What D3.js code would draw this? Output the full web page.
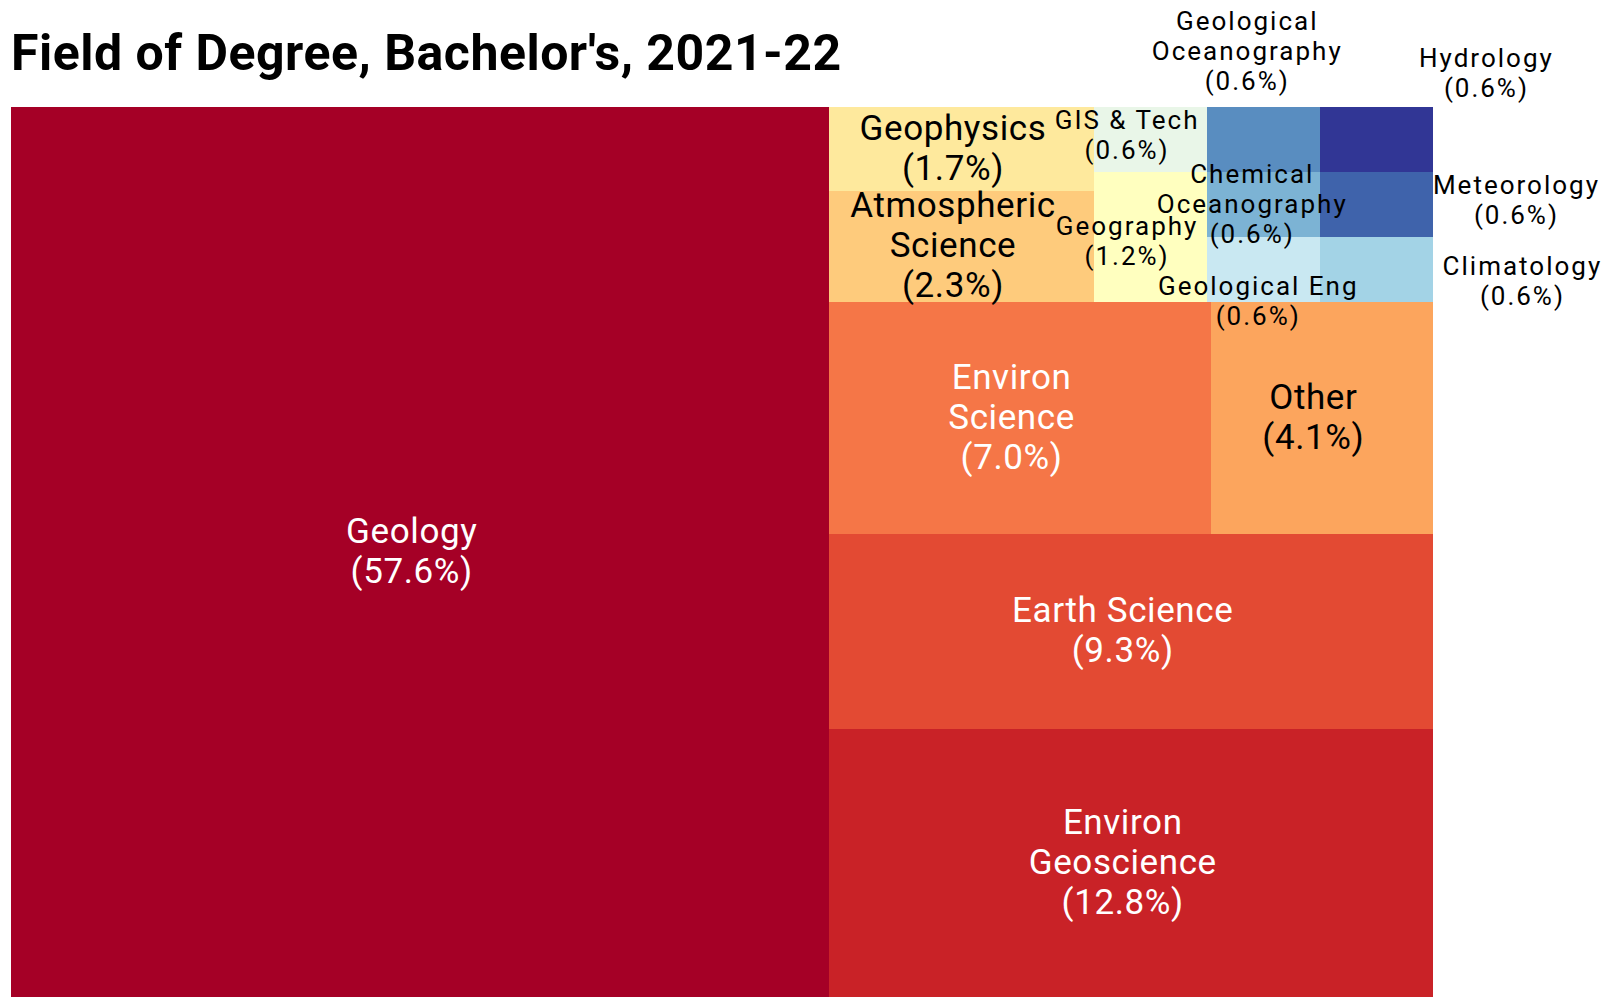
<!DOCTYPE html>
<html>
<head>
<meta charset="utf-8">
<script src="https://cdn.jsdelivr.net/npm/d3@7"></script>
<style>
    body { margin: 0; background: #fff; }
    text { font-family: Roboto, "Noto Sans", sans-serif; }
</style>
</head>
<body>
<script>
const WIDTH = 1611;
const HEIGHT = 997;

const mapLeft = 11;
const mapTop = 107;
const mapWidth = 1422;
const mapHeight = 890;

// fields, ranked by number of degrees (rank also drives the colour)
const fields = [
    "Geology", "Environ\nGeoscience", "Earth Science", "Environ\nScience", "Other",
    "Atmospheric\nScience", "Geophysics", "Geography", "GIS & Tech", "Geological Eng",
    "Climatology", "Chemical\nOceanography", "Geological\nOceanography", "Meteorology", "Hydrology"
];
const degrees = [99, 22, 16, 12, 7, 4, 3, 2, 1, 1, 1, 1, 1, 1, 1];
// nesting used by the slice-and-dice layout
const blocks = [
    "", "R", "R", "R/mid", "R/mid",
    "R/top/c1", "R/top/c1", "R/top/c2", "R/top/c2", "R/top/c3",
    "R/top/c4", "R/top/c3", "R/top/c3", "R/top/c4", "R/top/c4"
];

// labels that were pushed off their cell centre
const labelShift = {
    "GIS & Tech": [-23, -4.5],
    "Geography": [-23, 4],
    "Chemical\nOceanography": [-11, -1],
    "Geological Eng": [-5, 31.5],
    "Geological\nOceanography": [-16, -89],
    "Hydrology": [110, -66.5],
    "Meteorology": [140, -5],
    "Climatology": [146, 11]
};

const total = d3.sum(degrees);

const rows = [{ id: "root", parentId: null }];
const seen = new Set();
blocks.forEach(b => {
    if (!b) return;
    const parts = b.split("/");
    parts.forEach((p, i) => {
        const id = parts.slice(0, i + 1).join("/");
        if (seen.has(id)) return;
        seen.add(id);
        rows.push({ id: id, parentId: i ? parts.slice(0, i).join("/") : "root" });
    });
});
fields.forEach((f, i) => {
    rows.push({ id: f, parentId: blocks[i] || "root", name: f, value: degrees[i], rank: i });
});

const root = d3.stratify().id(d => d.id).parentId(d => d.parentId)(rows)
    .sum(d => d.value || 0);

const minRank = n => d3.min(n.leaves(), l => l.data.rank);
root.sort((a, b) => minRank(a) - minRank(b));

d3.treemap().tile(d3.treemapSliceDice).size([mapWidth, mapHeight])(root);

const color = d3.scaleSequential(d3.piecewise(d3.interpolateRgb, d3.schemeRdYlBu[11]))
    .domain([0, fields.length - 1]);

const svg = d3.select("body").append("svg")
    .attr("width", WIDTH)
    .attr("height", HEIGHT);

svg.append("text")
    .attr("x", 11)
    .attr("y", 70)
    .attr("font-size", 50)
    .attr("font-weight", 700)
    .attr("letter-spacing", 0.5)
    .attr("fill", "#000")
    .text("Field of Degree, Bachelor's, 2021-22");

// origin is bottom-left, so flip y
const leaves = root.leaves().map(d => ({
    name: d.data.name,
    value: d.value,
    rank: d.data.rank,
    x0: mapLeft + d.x0,
    x1: mapLeft + d.x1,
    y0: mapTop + mapHeight - d.y1,
    y1: mapTop + mapHeight - d.y0
}));

svg.append("g").selectAll("rect")
    .data(leaves)
    .join("rect")
    .attr("x", d => d.x0)
    .attr("y", d => d.y0)
    .attr("width", d => d.x1 - d.x0)
    .attr("height", d => d.y1 - d.y0)
    .attr("fill", d => color(d.rank))
    .attr("shape-rendering", "crispEdges");

svg.append("g").selectAll("text")
    .data(leaves)
    .join("text")
    .attr("text-anchor", "middle")
    .each(function (d) {
        const small = d.value <= 2;
        const size = small ? 26 : 35;
        const step = small ? 30 : 40;
        const shift = labelShift[d.name] || [-8.5, -1.5];
        const lines = d.name.split("\n").concat("(" + (d.value / total * 100).toFixed(1) + "%)");
        const cx = (d.x0 + d.x1) / 2 + shift[0];
        const cy = (d.y0 + d.y1) / 2 + shift[1];
        const inside = !labelShift[d.name];
        const fill = inside && d3.lab(color(d.rank)).l < 68 ? "#fff" : "#000";
        const t = d3.select(this)
            .attr("font-size", size)
            .attr("letter-spacing", small ? 2 : 0.6)
            .attr("fill", fill);
        lines.forEach((line, i) => {
            t.append("tspan")
                .attr("x", cx)
                .attr("y", cy + (i - (lines.length - 1) / 2) * step)
                .attr("dy", "0.355em")
                .text(line);
        });
    });
</script>
</body>
</html>
